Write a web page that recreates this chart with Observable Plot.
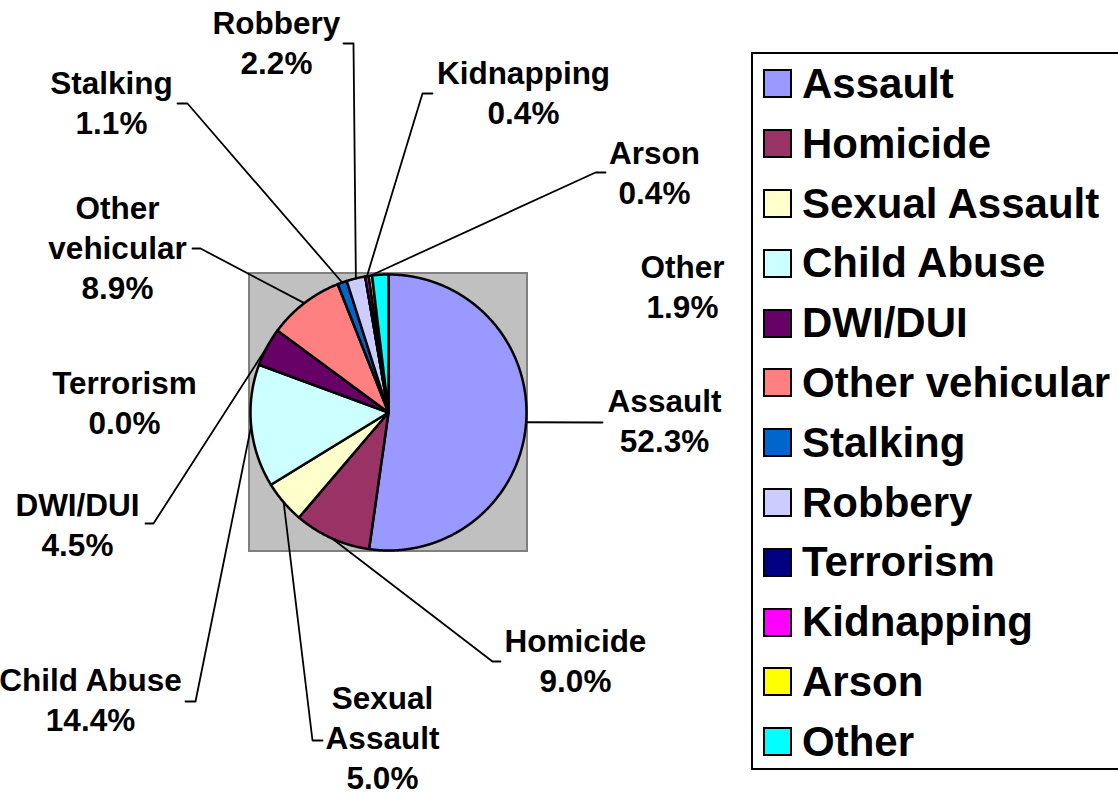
<!DOCTYPE html>
<html><head><meta charset="utf-8">
<script src="https://cdn.jsdelivr.net/npm/d3@7"></script>
<script src="https://cdn.jsdelivr.net/npm/@observablehq/plot@0.6"></script>
<style>
html,body{margin:0;padding:0;background:#fff;overflow:hidden;}
body{width:1118px;height:795px;font-family:"Liberation Sans",Arial,sans-serif;}
#wrap{position:relative;width:1118px;height:795px;overflow:hidden;}
#chart{position:absolute;left:0;top:0;}
#legend{position:absolute;left:751px;top:52px;width:380px;height:714px;border:2px solid #000;border-right:none;background:#fff;}
.item{display:flex;align-items:center;height:59.8px;}
.sw{width:25px;height:25px;border:2px solid #000;margin-left:10px;margin-right:10px;flex:none;}
.lab{font-weight:bold;font-size:42px;line-height:59.8px;white-space:nowrap;color:#000;}
</style></head><body>
<div id="wrap"><div id="chart"></div><div id="legend"></div></div>
<script>
// ---- data ----
const categories = ["Assault","Homicide","Sexual Assault","Child Abuse","DWI/DUI","Other vehicular","Stalking","Robbery","Terrorism","Kidnapping","Arson","Other"];
const values = [52.3, 9.0, 5.0, 14.4, 4.5, 8.9, 1.1, 2.2, 0.0, 0.4, 0.4, 1.9];
const colors = ["#9999FF","#993366","#FFFFCC","#CCFFFF","#660066","#FF8080","#0066CC","#CCCCFF","#000080","#FF00FF","#FFFF00","#00FFFF"];

// ---- layout (pixels) ----
const W = 1118, H = 795;
const cx = 388, cy = 412, R = 138;
const labelPos = {
  "Assault": [664, 451], "Homicide": [575, 691], "Sexual Assault": [382, 788],
  "Child Abuse": [90, 730], "DWI/DUI": [77, 555], "Terrorism": [124, 433],
  "Other vehicular": [117, 298], "Stalking": [111, 133], "Robbery": [276, 73],
  "Kidnapping": [523, 123], "Arson": [654, 203], "Other": [682, 317]
};
const wrapped = ["Sexual Assault", "Other vehicular"];
const leaderEnds = {
  "Assault": [[602, 422]],
  "Homicide": [[492, 661], [500, 661]],
  "Sexual Assault": [[312, 740], [322, 740]],
  "Child Abuse": [[195, 701], [185, 701]],
  "DWI/DUI": [[153, 523], [145, 523]],
  "Other vehicular": [[200, 248], [192, 248]],
  "Stalking": [[187, 103], [177, 103]],
  "Robbery": [[353, 43], [343, 43]],
  "Kidnapping": [[422, 93], [432, 93]],
  "Arson": [[595, 172], [605, 172]]
};

const table = categories.map((name, i) => ({name, value: values[i]}));
const arcs = d3.pie().sort(null).value(d => d.value)(table);
const polar = (a, r) => ({x: cx + r * Math.sin(a), y: cy - r * Math.cos(a)});

// slice polygons
const slicePts = [];
for (const a of arcs) {
  const name = a.data.name;
  slicePts.push({name, x: cx, y: cy});
  const n = Math.max(2, Math.ceil((a.endAngle - a.startAngle) / (Math.PI / 720)));
  for (let k = 0; k <= n; k++) {
    const t = a.startAngle + (a.endAngle - a.startAngle) * k / n;
    slicePts.push({name, ...polar(t, R)});
  }
  slicePts.push({name, x: cx, y: cy});
}

// leader lines
const leaderPts = [];
for (const a of arcs) {
  const name = a.data.name;
  if (!leaderEnds[name]) continue;
  const mid = (a.startAngle + a.endAngle) / 2;
  leaderPts.push({name, ...polar(mid, R)});
  for (const [x, y] of leaderEnds[name]) leaderPts.push({name, x, y});
}

// labels
const labels = table.map(d => ({
  name: d.name,
  x: labelPos[d.name][0], y: labelPos[d.name][1],
  text: (wrapped.includes(d.name) ? d.name.replace(" ", "\n") : d.name) + "\n" + d.value.toFixed(1) + "%"
}));

const box = [{x1: cx - R - 1, x2: cx + R + 1, y1: cy - R - 1, y2: cy + R + 1}];

const chart = Plot.plot({
  width: W, height: H, margin: 0,
  x: {domain: [0, W], range: [0, W], axis: null},
  y: {domain: [0, H], range: [0, H], axis: null},
  color: {domain: categories, range: colors},
  style: {background: "transparent", overflow: "visible"},
  marks: [
    Plot.rect(box, {x1: "x1", x2: "x2", y1: "y1", y2: "y2", fill: "#C0C0C0", stroke: "#808080", strokeWidth: 2}),
    Plot.line(slicePts, {x: "x", y: "y", z: "name", fill: "name", stroke: "black", strokeWidth: 2.5, strokeLinejoin: "round", curve: "linear"}),
    Plot.line(leaderPts, {x: "x", y: "y", z: "name", stroke: "black", strokeWidth: 1.8, curve: "linear"}),
    Plot.text(labels, {x: "x", y: "y", text: "text", textAnchor: "middle", lineAnchor: "bottom",
      lineHeight: 40 / 31.5, fontSize: 31.5, fontWeight: "bold",
      fontFamily: "'Liberation Sans', Arial, sans-serif", fill: "black"})
  ]
});
document.getElementById("chart").appendChild(chart);

// legend
const legend = document.getElementById("legend");
categories.forEach((name, i) => {
  const row = document.createElement("div");
  row.className = "item";
  const sw = document.createElement("div");
  sw.className = "sw";
  sw.style.background = colors[i];
  const lab = document.createElement("span");
  lab.className = "lab";
  lab.textContent = name;
  row.appendChild(sw); row.appendChild(lab);
  legend.appendChild(row);
});
</script>
</body></html>
